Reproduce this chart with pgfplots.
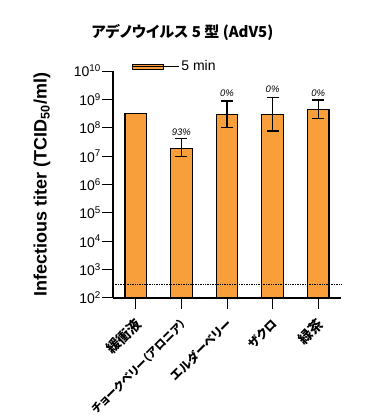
\documentclass[border=0pt]{standalone}
\usepackage{fontspec}
\setmainfont{Liberation Sans}
\newfontfamily\cjk{Noto Sans CJK JP}[RawFeature=+palt]
\usepackage{pgfplots}
\pgfplotsset{compat=1.18}
\definecolor{barorange}{RGB}{248,158,58}
\begin{document}
\begin{tikzpicture}[x=1pt,y=1pt]
\path[use as bounding box] (-113,-121) rectangle (267,298);
\begin{axis}[
  at={(0,0)}, anchor=south west,
  scale only axis, width=228pt, height=227pt,
  ymode=log, log basis y=10, ymin=1e2, ymax=1e10,
  log origin=infty,
  xmin=-0.5, xmax=4.5,
  axis x line*=bottom, axis y line*=left,
  axis line style={line width=1.6pt, -},
  tick align=outside,
  major tick length=11pt, minor tick length=5.5pt,
  every tick/.style={black, line width=1pt},
  ytick={1e2,1e3,1e4,1e5,1e6,1e7,1e8,1e9,1e10},
  yticklabel={\pgfmathparse{int(round(\tick))}10\textsuperscript{\pgfmathresult}},
  yticklabel style={font=\fontsize{14}{16}\selectfont, inner xsep=1pt},
  xtick={0,1,2,3,4},
  xticklabels={{\fontsize{14}{16}\selectfont 緩衝液}, {\fontsize{11.3}{13}\selectfont チョークベリー（アロニア）}, エルダーベリー, ザクロ, {\fontsize{14}{16}\selectfont 緑茶}},
  xticklabel style={font=\cjk\bfseries\fontsize{12}{14}\selectfont, xshift=5pt, yshift=-10pt, rotate=45, anchor=east},
  ylabel={\bfseries Infectious titer (TCID\textsubscript{50}/ml)},
  ylabel style={font=\fontsize{18}{20}\selectfont, at={(rel axis cs:-0.311,0.5)}, anchor=center},
  legend style={draw=none, fill=none, at={(0.07,1.02)}, anchor=west, font=\fontsize{14}{16}\selectfont},
  legend image code/.code={\draw[fill=barorange,draw=black,line width=0.8pt] (0pt,-2.5pt) rectangle (31pt,2.5pt); \path (0pt,0pt) -- (46pt,0pt);},
  clip=false,
]
\addplot[ybar, bar shift=0pt, bar width=21.6pt, fill=barorange, draw=black, line width=1.2pt]
  coordinates {(0,3.1e8)};
\addlegendentry{5 min}
\addplot[ybar, bar shift=0pt, bar width=21.6pt, fill=barorange, draw=black, line width=1.2pt, forget plot,
  error bars/.cd, y dir=both, y explicit,
  error bar style={line width=1.4pt, black},
  error mark options={rotate=90, mark size=6pt, line width=1.4pt, black}]
  coordinates {
  (1,1.9e7) += (0,2.37e7) -= (0,9.5e6)
  (2,3.0e8) += (0,5.7e8) -= (0,2.0e8)
  (3,3.0e8) += (0,8.7e8) -= (0,2.22e8)
  (4,4.27e8) += (0,5.2e8) -= (0,2.2e8)
  };
\addplot[black, densely dotted, line width=0.7pt, forget plot] coordinates {(-0.5,300) (4.5,300)};
\node[font=\itshape\fontsize{9.5}{11}\selectfont] at (axis cs:1,7.2e7) {93\%};
\node[font=\itshape\fontsize{9.5}{11}\selectfont] at (axis cs:2,1.6e9) {0\%};
\node[font=\itshape\fontsize{9.5}{11}\selectfont] at (axis cs:3,2.3e9) {0\%};
\node[font=\itshape\fontsize{9.5}{11}\selectfont] at (axis cs:4,1.7e9) {0\%};
\end{axis}
\node[font=\cjk\bfseries\fontsize{15}{17}\selectfont] at (69.5,266) {アデノウイルス 5 型 (AdV5)};
\end{tikzpicture}
\end{document}
